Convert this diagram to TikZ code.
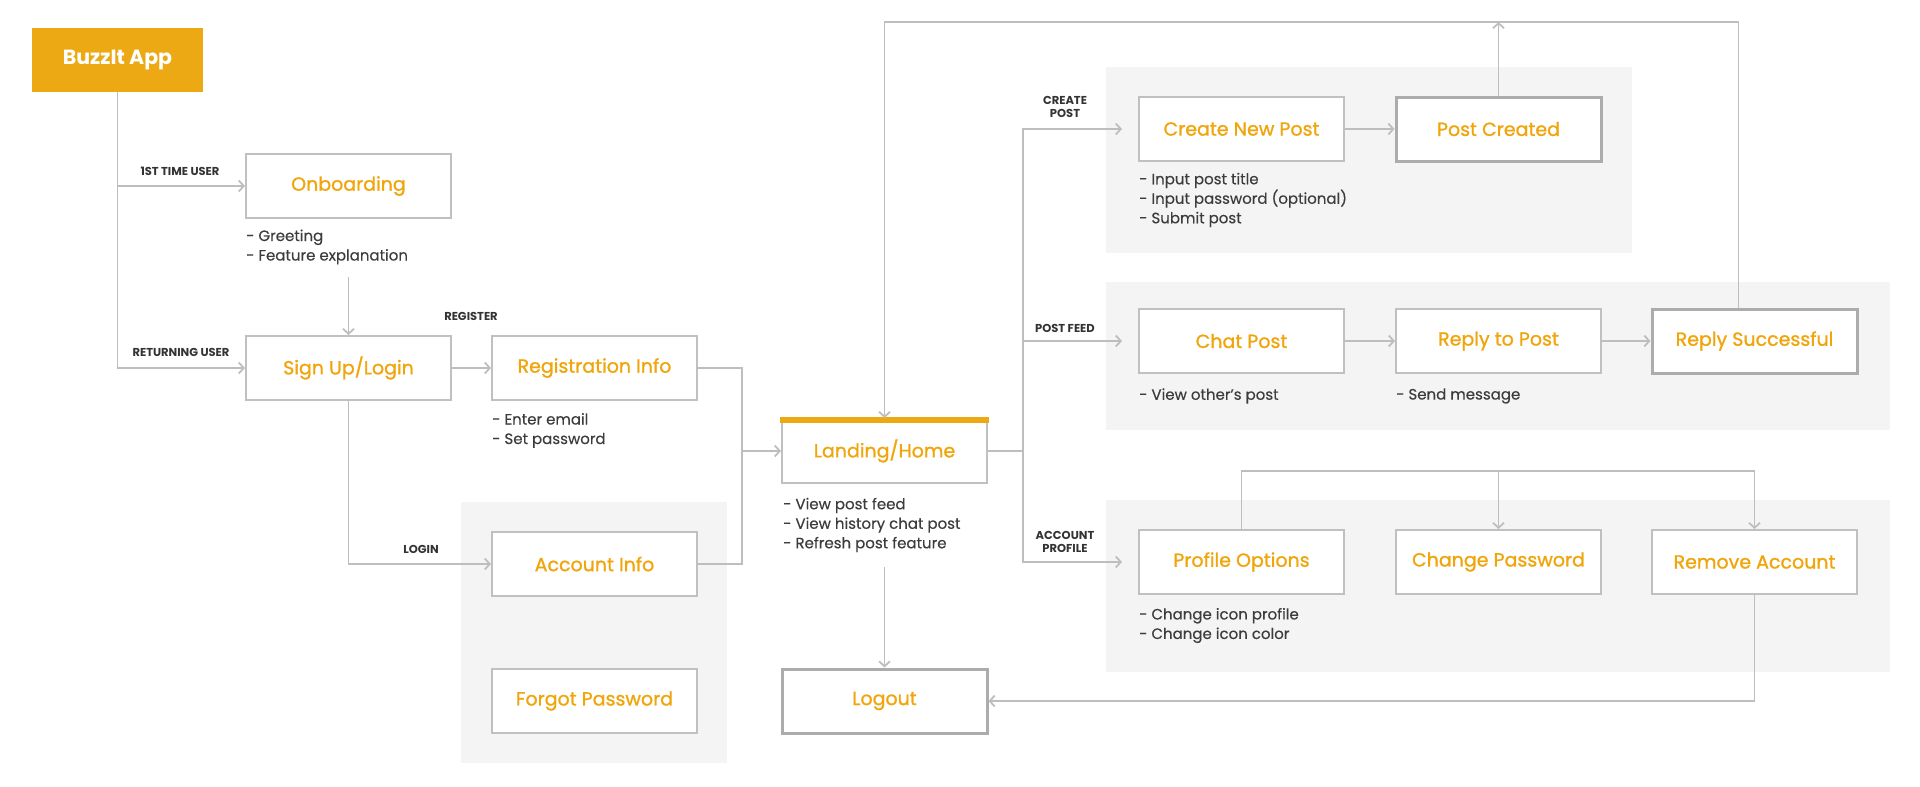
\documentclass[tikz,border=0pt]{standalone}
\usepackage{fontspec}
\setmainfont{Poppins}
\newfontfamily\medfont[FakeBold=1.1]{Poppins}
\newfontfamily\notefont[FakeBold=0.3]{Poppins}
\usetikzlibrary{arrows.meta}
\definecolor{orangefill}{RGB}{236,169,20}
\definecolor{orangetext}{RGB}{240,165,10}
\definecolor{boxgray}{RGB}{192,192,192}
\definecolor{boxdark}{RGB}{172,172,172}
\definecolor{linegray}{RGB}{190,190,190}
\definecolor{panelgray}{RGB}{244,244,244}
\definecolor{notegray}{RGB}{60,60,60}
\definecolor{lblgray}{RGB}{51,51,51}
\tikzset{
  box/.style={draw=boxgray, line width=2pt, fill=white, minimum width=205pt, minimum height=64pt, inner sep=0pt, text=orangetext, font=\medfont\fontsize{19}{23}\selectfont},
  boxthick/.style={box, draw=boxdark, line width=3pt},
  note/.style={anchor=west, align=left, inner sep=0pt, text=notegray, font=\notefont\fontsize{15}{19.5}\selectfont},
  lbl/.style={inner sep=0pt, align=center, text=lblgray, font=\bfseries\fontsize{11.5}{13}\selectfont},
  conn/.style={draw=linegray, line width=1.8pt},
  arr/.style={conn, -{Straight Barb[length=5pt,width=11pt]}},
}
\begin{document}
\begin{tikzpicture}[x=1pt,y=-1pt]
\useasboundingbox (0,0) rectangle (1920,787);
% panels
\fill[panelgray] (461,502) rectangle (727,763);
\fill[panelgray] (1106,67) rectangle (1632,253);
\fill[panelgray] (1106,282) rectangle (1890,430);
\fill[panelgray] (1106,500) rectangle (1890,672);
% nodes
\node[fill=orangefill, minimum width=171pt, minimum height=64pt, inner sep=0pt, text=white, font=\bfseries\fontsize{20.5}{24}\selectfont] (buzz) at (117.5,60) {BuzzIt App};
\node[box] (onb) at (348.5,186) {Onboarding};
\node[box] (sign) at (348.5,368) {Sign Up/Login};
\node[box] (reg) at (594.5,368) {Registration Info};
\node[box] (acc) at (594.5,564) {Account Info};
\node[box] (forgot) at (594.5,701) {Forgot Password};
\node[box] (land) at (884.5,451) {Landing/Home};
\fill[orangefill] ([xshift=-1pt,yshift=1pt]land.north west) rectangle ([xshift=1pt,yshift=-5pt]land.north east);
\node[boxthick] (logout) at (884.5,701) {Logout};
\node[box] (create) at (1241.5,129) {Create New Post};
\node[boxthick] (created) at (1498.5,129) {Post Created};
\node[box] (chat) at (1241.5,341) {Chat Post};
\node[box] (replyp) at (1498.5,341) {Reply to Post};
\node[boxthick] (replys) at (1754.5,341) {Reply Successful};
\node[box] (prof) at (1241.5,562) {Profile Options};
\node[box] (chpw) at (1498.5,562) {Change Password};
\node[box] (remove) at (1754.5,562) {Remove Account};
% notes
\node[note] (onbn) at (246,247) {- Greeting\\- Feature explanation};
\node[note] (regn) at (492,430.5) {- Enter email\\- Set password};
\node[note] (landn) at (783,525) {- View post feed\\- View history chat post\\- Refresh post feature};
\node[note] (createn) at (1139,200) {- Input post title\\- Input password (optional)\\- Submit post};
\node[note] (chatn) at (1139,396) {- View other’s post};
\node[note] (replypn) at (1396,396) {- Send message};
\node[note] (profn) at (1139,625.5) {- Change icon profile\\- Change icon color};
% labels
\node[lbl] (l1) at (180,171) {1ST TIME USER};
\node[lbl] (l2) at (181,352) {RETURNING USER};
\node[lbl] (l3) at (471,316) {REGISTER};
\node[lbl] (l4) at (421,549) {LOGIN};
\node[lbl] (l5) at (1065,107) {CREATE\\POST};
\node[lbl] (l6) at (1065,328) {POST FEED};
\node[lbl] (l7) at (1065,542) {ACCOUNT\\PROFILE};
% connectors
\draw[arr] (buzz.south) |- (sign.west);
\draw[arr] (buzz.south |- onb.west) -- (onb.west);
\coordinate (onbout) at (348.5,277);
\draw[arr] (onbout) -- (sign.north);
\draw[arr] (sign.east) -- (reg.west);
\draw[arr] (sign.south) |- (acc.west);
\coordinate (j1) at (742,451);
\draw[conn] (reg.east) -| (j1);
\draw[conn] (acc.east) -| (j1);
\draw[arr] (j1) -- (land.west);
\coordinate (hub) at (1023,451);
\draw[conn] (land.east) -- (hub);
\draw[arr] (hub) |- ([xshift=-16pt]create.west);
\draw[arr] (hub) |- ([xshift=-16pt]prof.west);
\draw[arr] (hub |- chat.west) -- ([xshift=-16pt]chat.west);
\draw[arr] (create.east) -- (created.west);
\draw[arr] (chat.east) -- (replyp.west);
\draw[arr] (replyp.east) -- (replys.west);
\coordinate (topy) at (0,22);
\draw[arr] (created.north) -- (created.north |- topy);
\draw[arr] ([xshift=-16pt]replys.north) |- (topy -| land.north) -- (land.north);
\coordinate (py) at (0,471);
\draw[arr] (prof.north) |- (py -| remove.north) -- (remove.north);
\draw[arr] (py -| chpw.north) -- (chpw.north);
\draw[arr] (remove.south) |- (logout.east);
\coordinate (landout) at (884.5,567);
\draw[arr] (landout) -- (logout.north);
\end{tikzpicture}
\end{document}
